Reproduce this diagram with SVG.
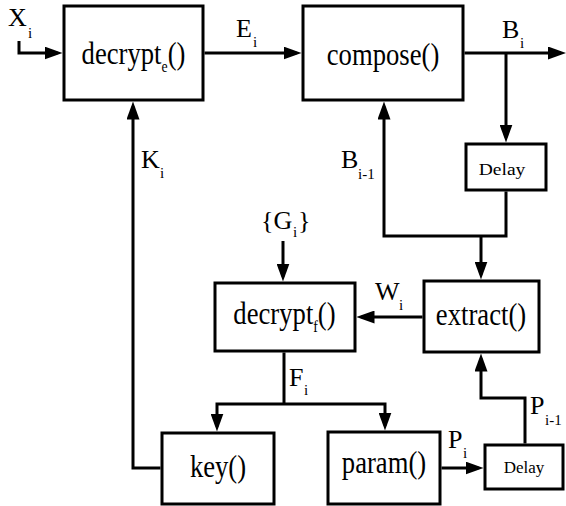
<svg xmlns="http://www.w3.org/2000/svg" width="566" height="506" viewBox="0 0 566 506">
<style>
.box{fill:#fff;stroke:#000;stroke-width:3}
.ln{fill:none;stroke:#000;stroke-width:3;stroke-linejoin:miter}
.arr{marker-end:url(#ah)}
text{font-family:'Liberation Serif','DejaVu Serif',serif;fill:#000}
.t{font-size:31px;text-anchor:middle}
.s{font-size:16px}
.d{font-size:17px;text-anchor:middle}
.l{font-size:26px}
.ls{font-size:15px}
</style>
<defs>
<marker id="ah" markerUnits="userSpaceOnUse" markerWidth="18" markerHeight="13" refX="13" refY="6.5" orient="auto">
<path d="M0,0 L18,6.5 L0,13 Z" fill="#000"/>
</marker>
</defs>
<rect width="566" height="506" fill="#fff"/>
<g id="connectors">
<path class="ln arr" d="M19,41 V53 H57.5"/>
<path class="ln arr" d="M204.5,53 H296.5"/>
<path class="ln arr" d="M464.5,53 H561"/>
<path class="ln arr" d="M506,53 V137.5"/>
<path class="ln arr" d="M506,191.5 V236 H384 V106.5"/>
<path class="ln arr" d="M481,236 V274.5"/>
<path class="ln arr" d="M283,241 V276.5"/>
<path class="ln arr" d="M422.5,317 H361.5"/>
<path class="ln" d="M284,352.5 V404"/>
<path class="ln arr" d="M284,404 H217 V426.5"/>
<path class="ln arr" d="M284,404 H385 V425.5"/>
<path class="ln arr" d="M160.5,468 H133 V106.5"/>
<path class="ln arr" d="M441.5,468 H478.5"/>
<path class="ln arr" d="M525,443.5 V398 H481 V358.5"/>
</g>
<g id="labels">
<text class="l" x="8" y="26">X<tspan class="ls" x="28" y="38">i</tspan></text>
<text class="l" x="236" y="37">E<tspan class="ls" x="253" y="47">i</tspan></text>
<text class="l" x="502" y="38">B<tspan class="ls" x="520" y="48">i</tspan></text>
<text class="l" x="341" y="168">B<tspan class="ls" x="358" y="179">i-1</tspan></text>
<text class="l" x="141" y="168">K<tspan class="ls" x="160" y="178">i</tspan></text>
<text class="l" x="261" y="229">{G<tspan class="ls" x="293" y="237">i</tspan><tspan x="298" y="229">}</tspan></text>
<text class="l" x="375" y="300">W<tspan class="ls" x="399" y="310">i</tspan></text>
<text class="l" x="289" y="386">F<tspan class="ls" x="304" y="395">i</tspan></text>
<text class="l" x="448" y="448">P<tspan class="ls" x="463" y="458">i</tspan></text>
<text class="l" x="530" y="414">P<tspan class="ls" x="545" y="425">i-1</tspan></text>
</g>
<g id="decrypt_e">
<rect class="box" x="64" y="6" width="139" height="94"/>
<text class="t" transform="translate(133.5,64) scale(0.86,1)">decrypt<tspan class="s" dy="8">e</tspan><tspan dy="-8">()</tspan></text>
</g>
<g id="compose">
<rect class="box" x="303" y="6" width="160" height="94"/>
<text class="t" transform="translate(383,65) scale(0.86,1)">compose()</text>
</g>
<g id="delay1">
<rect class="box" x="466" y="144" width="80" height="46"/>
<text class="d" transform="translate(502,175) scale(1.15,1)">Delay</text>
</g>
<g id="decrypt_f">
<rect class="box" x="215" y="283" width="140" height="68"/>
<text class="t" transform="translate(284.5,324) scale(0.86,1)">decrypt<tspan class="s" dy="8">f</tspan><tspan dy="-8">()</tspan></text>
</g>
<g id="extract">
<rect class="box" x="424" y="281" width="115" height="71"/>
<text class="t" transform="translate(481,325) scale(0.86,1)">extract()</text>
</g>
<g id="key">
<rect class="box" x="162" y="433" width="112" height="71"/>
<text class="t" transform="translate(218,477) scale(0.86,1)">key()</text>
</g>
<g id="param">
<rect class="box" x="328" y="432" width="112" height="72"/>
<text class="t" transform="translate(384,473) scale(0.86,1)">param()</text>
</g>
<g id="delay2">
<rect class="box" x="485" y="445" width="78" height="44"/>
<text class="d" transform="translate(524,473)">Delay</text>
</g>
</svg>
